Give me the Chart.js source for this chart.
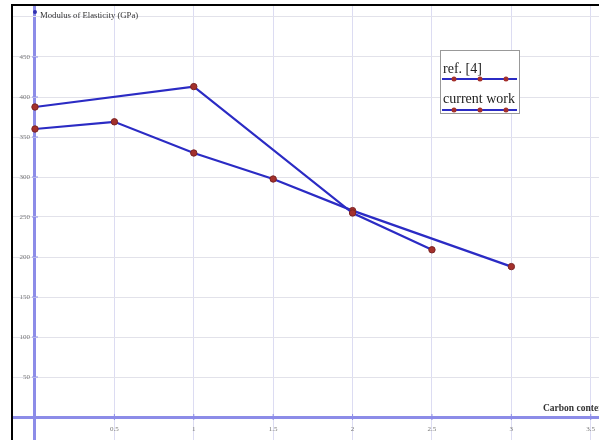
<!DOCTYPE html>
<html>
<head>
<meta charset="utf-8">
<script src="https://cdn.jsdelivr.net/npm/chart.js@4/dist/chart.umd.min.js"></script>
<style>
  body { margin: 0; background: #fff; }
  #wrap { width: 599px; height: 440px; }
</style>
</head>
<body>
<div id="wrap"><canvas id="elasticity" width="599" height="440"></canvas></div>
<script>
// carbon content vs modulus of elasticity
const refCarbon = [0, 1, 2, 2.5];
const refModulus = [387.5, 413, 255, 209];
const workCarbon = [0, 0.5, 1, 1.5, 2, 3];
const workModulus = [360, 369, 330, 297.5, 258, 188];

const xTickLabels = ['0.5', '1', '1.5', '2', '2.5', '3', '3.5'];
const yTickLabels = ['50', '100', '150', '200', '250', '300', '350', '400', '450'];

const lineBlue = '#2b2bc4';
const dotRed = '#a4302c';
const axisBlue = '#8c8ce8';

function pairs(xs, ys) {
  return xs.map((x, i) => ({ x: x, y: ys[i] }));
}

// grid positions: the zero axis plus every labelled tick (and one more at the top)
function gridTicks(labels, extra) {
  return [0].concat(labels.map(Number), extra).map(v => ({ value: v }));
}

const decorations = {
  id: 'decorations',
  afterDraw(chart) {
    const ctx = chart.ctx;
    const xs = chart.scales.x;
    const ys = chart.scales.y;
    const x0 = xs.getPixelForValue(0);
    const y0 = ys.getPixelForValue(0);
    ctx.save();

    // tick labels and tick marks
    ctx.font = '7px "Liberation Serif"';
    ctx.fillStyle = '#777';
    ctx.strokeStyle = axisBlue;
    ctx.lineWidth = 1;
    ctx.textAlign = 'right';
    ctx.textBaseline = 'middle';
    yTickLabels.forEach(t => {
      const py = ys.getPixelForValue(Number(t));
      ctx.fillText(t, x0 - 5, py);
      ctx.beginPath();
      ctx.moveTo(x0 - 3, py);
      ctx.lineTo(x0 + 3, py);
      ctx.stroke();
    });
    ctx.textAlign = 'center';
    xTickLabels.forEach(t => {
      const px = xs.getPixelForValue(Number(t));
      ctx.fillText(t, px, y0 + 12);
      ctx.beginPath();
      ctx.moveTo(px, y0 - 3);
      ctx.lineTo(px, y0 + 3);
      ctx.stroke();
    });

    // y axis arrow tip
    ctx.fillStyle = '#3030b0';
    ctx.beginPath();
    ctx.arc(x0, 12, 2, 0, Math.PI * 2);
    ctx.fill();

    // axis titles
    ctx.fillStyle = '#333';
    ctx.textAlign = 'left';
    ctx.textBaseline = 'middle';
    ctx.font = '8.7px "Liberation Serif"';
    ctx.fillText('Modulus of Elasticity (GPa)', x0 + 5, 16);
    ctx.font = 'bold 9.5px "Liberation Serif"';
    ctx.fillText('Carbon content', 543, 409);

    // legend box
    const bx = 440, by = 50, bw = 79, bh = 63;
    ctx.fillStyle = '#fff';
    ctx.fillRect(bx, by, bw, bh);
    ctx.strokeStyle = '#999';
    ctx.lineWidth = 1;
    ctx.strokeRect(bx + 0.5, by + 0.5, bw, bh);
    ctx.font = '14px "Liberation Serif"';
    ctx.textBaseline = 'alphabetic';
    const rows = [73, 103];
    chart.data.datasets.forEach((ds, i) => {
      const base = rows[i];
      ctx.fillStyle = '#222';
      ctx.fillText(ds.label, bx + 3, base);
      const ly = base + (i === 0 ? 6 : 7);
      ctx.strokeStyle = ds.borderColor;
      ctx.lineWidth = 2;
      ctx.beginPath();
      ctx.moveTo(bx + 2, ly);
      ctx.lineTo(bx + bw - 2, ly);
      ctx.stroke();
      [454, 480, 506].forEach(mx => {
        ctx.fillStyle = dotRed;
        ctx.beginPath();
        ctx.arc(mx, ly, 2.5, 0, Math.PI * 2);
        ctx.fill();
      });
    });

    // frame
    ctx.fillStyle = '#000';
    ctx.fillRect(11, 4, 588, 2);
    ctx.fillRect(11, 4, 2, 436);
    ctx.restore();
  }
};

new Chart(document.getElementById('elasticity'), {
  type: 'line',
  data: {
    datasets: [{
      label: 'ref. [4]',
      data: pairs(refCarbon, refModulus),
      borderColor: lineBlue,
      borderWidth: 2.2,
      pointRadius: 3.2,
      pointBackgroundColor: dotRed,
      pointBorderColor: '#7a2424',
      pointBorderWidth: 1,
      tension: 0
    }, {
      label: 'current work',
      data: pairs(workCarbon, workModulus),
      borderColor: lineBlue,
      borderWidth: 2.2,
      pointRadius: 3.2,
      pointBackgroundColor: dotRed,
      pointBorderColor: '#7a2424',
      pointBorderWidth: 1,
      tension: 0
    }]
  },
  options: {
    responsive: false,
    animation: false,
    layout: { autoPadding: false, padding: { left: 13, top: 6, right: 0, bottom: 0 } },
    plugins: {
      legend: { display: false },
      tooltip: { enabled: false }
    },
    scales: {
      x: {
        type: 'linear',
        min: -0.1385,
        max: 3.552,
        border: { display: false },
        ticks: { display: false },
        afterFit: s => { s.height = 0; },
        afterBuildTicks: s => { s.ticks = gridTicks(xTickLabels, []); },
        grid: {
          drawTicks: false,
          color: c => c.tick.value === 0 ? axisBlue : '#dcdcf2',
          lineWidth: c => c.tick.value === 0 ? 3 : 1
        }
      },
      y: {
        type: 'linear',
        min: -28.75,
        max: 513.75,
        border: { display: false },
        ticks: { display: false },
        afterFit: s => { s.width = 0; },
        afterBuildTicks: s => { s.ticks = gridTicks(yTickLabels, [500]); },
        grid: {
          drawTicks: false,
          color: c => c.tick.value === 0 ? axisBlue : '#e2e2ea',
          lineWidth: c => c.tick.value === 0 ? 3 : 1
        }
      }
    }
  },
  plugins: [decorations]
});
</script>
</body>
</html>
